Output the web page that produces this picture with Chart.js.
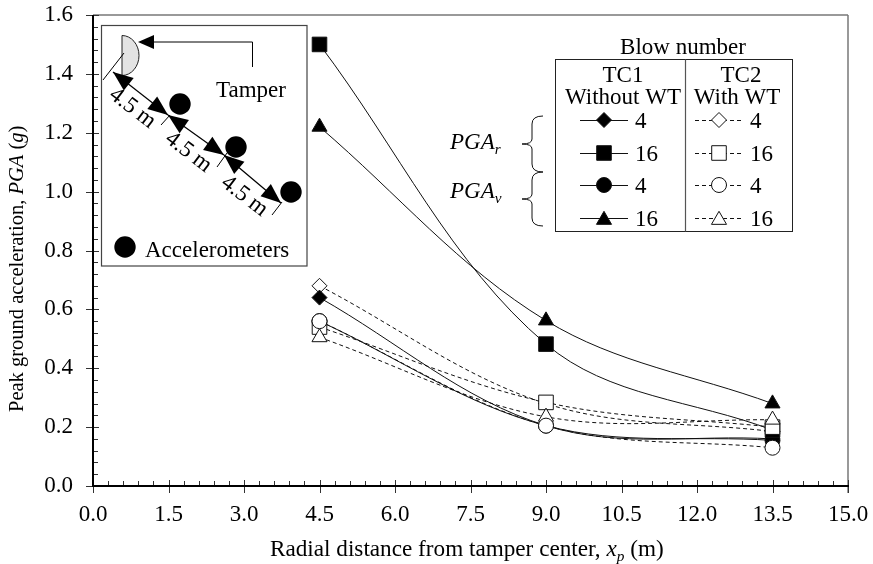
<!DOCTYPE html>
<html><head><meta charset="utf-8">
<style>html,body{margin:0;padding:0;background:#fff}#w{position:relative;width:873px;height:564px}</style>
<script src="https://cdn.jsdelivr.net/npm/chart.js@4/dist/chart.umd.js"></script>
</head><body><div id="w"><canvas id="c" width="873" height="564"></canvas></div>
<script>
const distances=[4.5,9,13.5];
const tc1Pgar4=[0.64,0.205,0.16];
const tc1Pgar16=[1.5,0.482,0.19];
const tc1Pgav4=[0.56,0.205,0.155];
const tc1Pgav16=[1.22,0.562,0.28];
const tc2Pgar4=[0.68,0.28,0.185];
const tc2Pgar16=[0.54,0.284,0.2];
const tc2Pgav4=[0.56,0.205,0.13];
const tc2Pgav16=[0.505,0.235,0.225];
const xTicks=[0,1.5,3,4.5,6,7.5,9,10.5,12,13.5,15];
const yTicks=[0,0.2,0.4,0.6,0.8,1.0,1.2,1.4,1.6];
const FONT='"Liberation Serif"';
const INK='#000';
const R={rectRot:7.5,rect:10.3,circle:7.5,triangle:8.7};
function ds(label,vals,style,fill,dash){
  const r=R[style];
  return {label,data:vals.map((v,i)=>({x:distances[i],y:v})),showLine:true,tension:0.35,
    borderColor:'#111',borderWidth:1,borderDash:dash?[4,3]:[],pointStyle:style,pointRadius:r,pointHoverRadius:r,
    pointBackgroundColor:fill?'#000':'#fff',pointBorderColor:'#111',pointBorderWidth:1};
}
const datasets=[
 ds('TC2 PGAv 4',tc2Pgav4,'circle',false,true),
 ds('TC2 PGAv 16',tc2Pgav16,'triangle',false,true),
 ds('TC2 PGAr 16',tc2Pgar16,'rect',false,true),
 ds('TC1 PGAv 16',tc1Pgav16,'triangle',true,false),
 ds('TC1 PGAr 16',tc1Pgar16,'rect',true,false),
 ds('TC1 PGAr 4',tc1Pgar4,'rectRot',true,false),
 ds('TC1 PGAv 4',tc1Pgav4,'circle',true,false),
 ds('TC2 PGAr 4',tc2Pgar4,'rectRot',false,true)
];
function segs(ctx,x,y,parts,size){
  let px=x;
  for(const [t,it,sub] of parts){
    const s=sub?size*0.66:size;
    ctx.font=(it?'italic ':'')+s+'px '+FONT;
    ctx.fillText(t,px,sub?y+size*0.22:y);
    px+=ctx.measureText(t).width;
  }
  return px-x;
}
function arrowHead(ctx,x,y,ang,len,hw){
  ctx.save();ctx.translate(x,y);ctx.rotate(ang);ctx.beginPath();ctx.moveTo(0,0);ctx.lineTo(-len,-hw);ctx.lineTo(-len,hw);ctx.closePath();ctx.fill();ctx.restore();
}
function line(ctx,a,b,c,d){ctx.beginPath();ctx.moveTo(a,b);ctx.lineTo(c,d);ctx.stroke();}
function centered(ctx,t,x,y,size){ctx.font=size+'px '+FONT;ctx.textAlign='center';ctx.fillText(t,x,y);ctx.textAlign='left';}
function marker(ctx,style,x,y,filled){
  ctx.save();ctx.fillStyle=filled?'#000':'#fff';ctx.strokeStyle='#111';ctx.lineWidth=1;
  Chart.helpers.drawPoint(ctx,{pointStyle:style,radius:R[style],rotation:0,borderWidth:1},x,style==='triangle'?y+2:y);
  ctx.restore();
}
const overlay={id:'overlay',
 beforeDatasetsDraw(chart){
  const ctx=chart.ctx,sx=chart.scales.x,sy=chart.scales.y;
  ctx.save();
  ctx.strokeStyle='#777';ctx.lineWidth=1.5;
  line(ctx,sx.left,sy.top,sx.right,sy.top);
  line(ctx,sx.right,sy.top,sx.right,sy.bottom+7);
  ctx.strokeStyle='#333';ctx.lineWidth=1;
  for(let i=0;i<=50;i++){
    const v=i*0.3,p=Math.round(sx.getPixelForValue(v))+0.5;
    if(i%5===0) line(ctx,p,sy.bottom-6,p,sy.bottom+7); else line(ctx,p,sy.bottom-5,p,sy.bottom);
  }
  for(let i=0;i<=40;i++){
    const v=i*0.04,p=Math.round(sy.getPixelForValue(v))+0.5;
    if(i%5===0) line(ctx,sx.left-7,p,sx.left+6,p); else line(ctx,sx.left,p,sx.left+5,p);
  }
  ctx.strokeStyle='#000';ctx.lineWidth=2;
  line(ctx,sx.left,sy.bottom,sx.right+1,sy.bottom);
  line(ctx,sx.left,sy.top,sx.left,sy.bottom+1);
  ctx.restore();
 },
 afterDatasetsDraw(chart){
  const ctx=chart.ctx;
  ctx.save();
  ctx.fillStyle=INK;ctx.textBaseline='alphabetic';ctx.textAlign='left';
  segs(ctx,270,556,[['Radial distance from tamper center, ',0,0],['x',1,0],['p',1,1],[' (m)',0,0]],23.2);
  ctx.save();ctx.translate(23,412);ctx.rotate(-Math.PI/2);
  segs(ctx,0,0,[['Peak ground acceleration, ',0,0],['PGA',1,0],[' (',0,0],['g',1,0],[')',0,0]],20.5);ctx.restore();
  // inset
  ctx.fillStyle='#fff';ctx.strokeStyle='#444';ctx.lineWidth=1.2;
  ctx.fillRect(101.5,25.5,205.5,240.5);ctx.strokeRect(101.5,25.5,205.5,240.5);
  ctx.fillStyle='#e3e3e3';ctx.strokeStyle='#222';ctx.lineWidth=1;
  ctx.beginPath();ctx.ellipse(122,55.5,17,20,0,-Math.PI/2,Math.PI/2);ctx.closePath();ctx.fill();ctx.stroke();
  ctx.fillStyle=INK;ctx.strokeStyle='#000';
  line(ctx,103,80,124,53);
  line(ctx,161,125,170,115);
  line(ctx,217,167,227,153);
  line(ctx,272,215,282,202);
  line(ctx,252.5,67,252.5,42);line(ctx,252.5,42,150,42);
  arrowHead(ctx,138,42,Math.PI,16,7);
  ctx.lineWidth=1.2;
  for(const [a,b,c,d] of [[113,72,168,115],[168,115,224,155],[224,155,281,203]]){
    line(ctx,a,b,c,d);
    const ang=Math.atan2(d-b,c-a);
    arrowHead(ctx,a,b,ang+Math.PI,20,8);
    arrowHead(ctx,c,d,ang,20,8);
  }
  for(const [x,y] of [[180,104],[236,147],[291,192],[125,247]]){ctx.beginPath();ctx.arc(x,y,10.7,0,Math.PI*2);ctx.fill();}
  ctx.font='23px '+FONT;
  ctx.fillText('Tamper',216,97);
  ctx.fillText('Accelerometers',145,257);
  for(const [x,y] of [[108,97],[164,141],[220,185]]){
    ctx.save();ctx.translate(x,y);ctx.rotate(Math.atan2(43,56));ctx.font='23px '+FONT;ctx.fillText('4.5 m',0,0);ctx.restore();
  }
  // legend
  ctx.strokeStyle='#222';ctx.lineWidth=1;
  ctx.fillStyle='#fff';ctx.fillRect(555.5,59.5,237,172);
  ctx.strokeRect(555.5,59.5,237,172);
  ctx.strokeStyle='#555';ctx.lineWidth=1.2;line(ctx,685.5,59.5,685.5,231.5);
  ctx.fillStyle=INK;
  centered(ctx,'Blow number',683,54,23);
  centered(ctx,'TC1',623,82,23);
  centered(ctx,'Without WT',623,104,23);
  centered(ctx,'TC2',741,82,23);
  centered(ctx,'With WT',737,104,23);
  const rowsY=[120,153,185,218];
  const lab=['4','16','4','16'];
  const st=['rectRot','rect','circle','triangle'];
  rowsY.forEach((y,i)=>{
    ctx.strokeStyle='#111';ctx.lineWidth=1;ctx.setLineDash([]);
    line(ctx,580,y+.5,628,y+.5);
    marker(ctx,st[i],604,y,true);
    ctx.fillStyle=INK;ctx.font='23px '+FONT;ctx.fillText(lab[i],635,y+8);
    ctx.strokeStyle='#111';ctx.setLineDash([4,3]);
    line(ctx,695,y+.5,743,y+.5);ctx.setLineDash([]);
    marker(ctx,st[i],719,y,false);
    ctx.fillStyle=INK;ctx.font='23px '+FONT;ctx.fillText(lab[i],750,y+8);
  });
  ctx.strokeStyle='#111';ctx.lineWidth=1;
  const brace=(t,b)=>{const m=(t+b)/2;ctx.beginPath();ctx.moveTo(543,t);ctx.quadraticCurveTo(532,t,532,t+8);ctx.lineTo(532,m-5);ctx.quadraticCurveTo(532,m,522,m);ctx.quadraticCurveTo(532,m,532,m+5);ctx.lineTo(532,b-8);ctx.quadraticCurveTo(532,b,543,b);ctx.stroke();};
  brace(116,172);brace(172,226);
  ctx.fillStyle=INK;
  segs(ctx,450,149,[['PGA',1,0],['r',1,1]],23);
  segs(ctx,450,198,[['PGA',1,0],['v',1,1]],23);
  ctx.restore();
 }
};
function noPad(a){a.paddingLeft=0;a.paddingRight=0;a.paddingTop=0;a.paddingBottom=0;}
new Chart(document.getElementById('c'),{
 type:'scatter',
 data:{datasets},
 plugins:[overlay],
 options:{
  responsive:false,animation:false,
  layout:{padding:{left:0,right:25,top:15,bottom:0}},
  plugins:{legend:{display:false},title:{display:false},tooltip:{enabled:false}},
  scales:{
   x:{type:'linear',min:0,max:15,position:'bottom',
      afterBuildTicks(a){a.ticks=xTicks.map(v=>({value:v}));},
      afterFit(a){a.height=78;noPad(a);},
      grid:{display:false,drawTicks:false},border:{display:false},
      ticks:{color:'#000',font:{family:FONT,size:23},padding:15,maxRotation:0,autoSkip:false,callback:v=>v.toFixed(1)}},
   y:{type:'linear',min:0,max:1.6,
      afterBuildTicks(a){a.ticks=yTicks.map(v=>({value:v}));},
      afterFit(a){a.width=93;noPad(a);},
      grid:{display:false,drawTicks:false},border:{display:false},
      ticks:{color:'#000',font:{family:FONT,size:23},padding:20,autoSkip:false,callback:v=>v.toFixed(1)}}
  }
 }
});
</script></body></html>
